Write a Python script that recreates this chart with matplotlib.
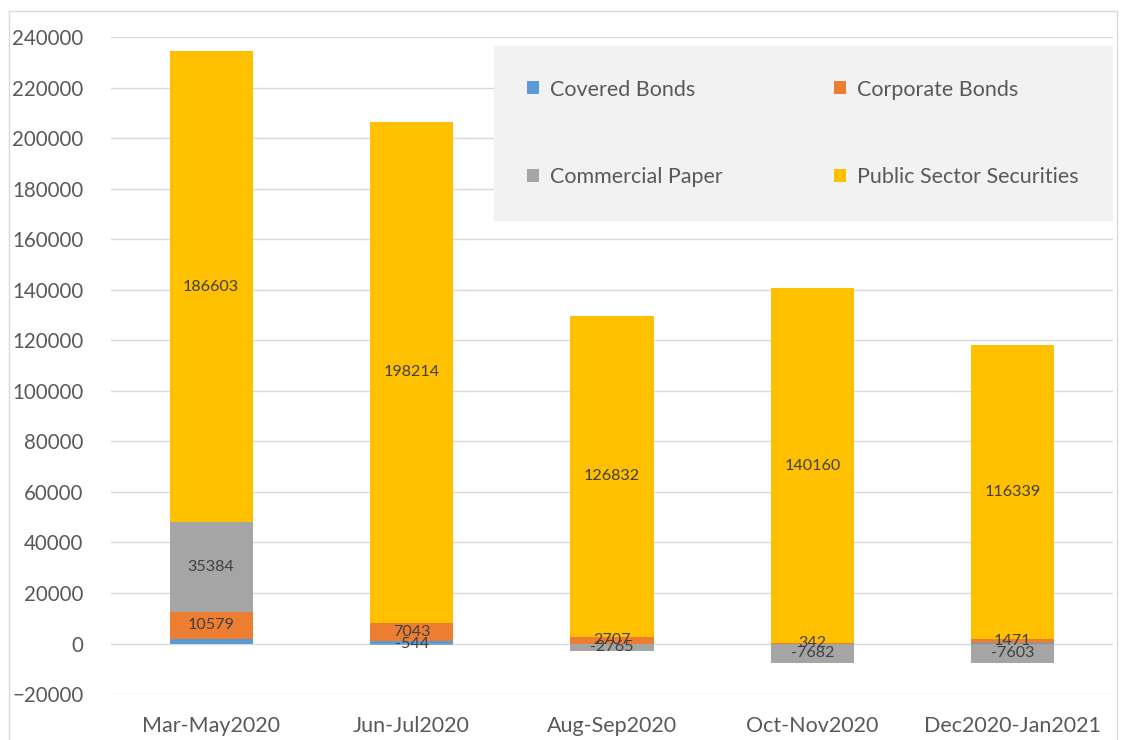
import numpy as np
import matplotlib.pyplot as plt
from matplotlib.patches import Rectangle

plt.rcParams['font.family'] = ['Lato', 'DejaVu Sans']

periods = ['Mar-May2020', 'Jun-Jul2020', 'Aug-Sep2020', 'Oct-Nov2020', 'Dec2020-Jan2021']
covered = [2000, 1200, 0, 0, 200]
corporate = [10579, 7043, 2707, 342, 1471]
commercial = [35384, -544, -2765, -7682, -7603]
public = [186603, 198214, 126832, 140160, 116339]

series = [('Covered Bonds', covered, '#5b9bd5', False),
          ('Corporate Bonds', corporate, '#ed7d31', True),
          ('Commercial Paper', commercial, '#a5a5a5', True),
          ('Public Sector Securities', public, '#ffc000', True)]

fig = plt.figure(figsize=(11.27, 7.4), dpi=100)
ax = fig.add_axes([111 / 1127, 0.062, 1002 / 1127, 0.888])
fig.patches.append(Rectangle((9 / 1127, -0.01), 1108 / 1127, 1 - 11 / 740 + 0.01,
                             transform=fig.transFigure, fill=False,
                             edgecolor='#d9d9d9', lw=1))

x = np.arange(len(periods))
pos_base = np.zeros(len(periods))
neg_base = np.zeros(len(periods))
handles = []
for name, vals, col, show in series:
    vals = np.array(vals, dtype=float)
    bottom = np.where(vals >= 0, pos_base, neg_base)
    h = ax.bar(x, vals, 0.415, bottom=bottom, color=col, label=name, zorder=3)
    handles.append(h)
    if show:
        for xi, b, v in zip(x, bottom, vals):
            ax.text(xi, b + v / 2, f'{int(v)}', ha='center', va='center',
                    fontsize=11.6, color='#404040', zorder=4)
    pos_base = np.where(vals >= 0, pos_base + vals, pos_base)
    neg_base = np.where(vals < 0, neg_base + vals, neg_base)

ax.set_ylim(-20000, 240000)
ax.set_yticks(np.arange(-20000, 240001, 20000))
ax.set_xlim(-0.5, 4.5)
ax.set_xticks(x)
ax.set_xticklabels(periods)
ax.grid(axis='y', color='#d9d9d9', lw=1, zorder=0)
for s in ax.spines.values():
    s.set_visible(False)
ax.tick_params(length=0, labelcolor='#595959')
ax.tick_params(axis='y', pad=20, labelsize=14.8)
ax.tick_params(axis='x', pad=16, labelsize=15.5)

# row-wise order like the original legend
order = [0, 2, 1, 3]
leg = ax.legend([handles[i] for i in order], [series[i][0] for i in order],
                loc='upper left', bbox_to_anchor=(0.382, 0.986), ncol=2,
                frameon=True, fontsize=15.5, labelcolor='#595959',
                handlelength=0.55, handleheight=0.55, handletextpad=0.5,
                columnspacing=5.2, labelspacing=3.12, borderpad=1.55, borderaxespad=0,
                fancybox=False)
leg.get_frame().set_facecolor('#f2f2f2')
leg.get_frame().set_edgecolor('#f2f2f2')
leg.get_frame().set_alpha(1)
leg.set_zorder(5)

fig.savefig('out.png')
